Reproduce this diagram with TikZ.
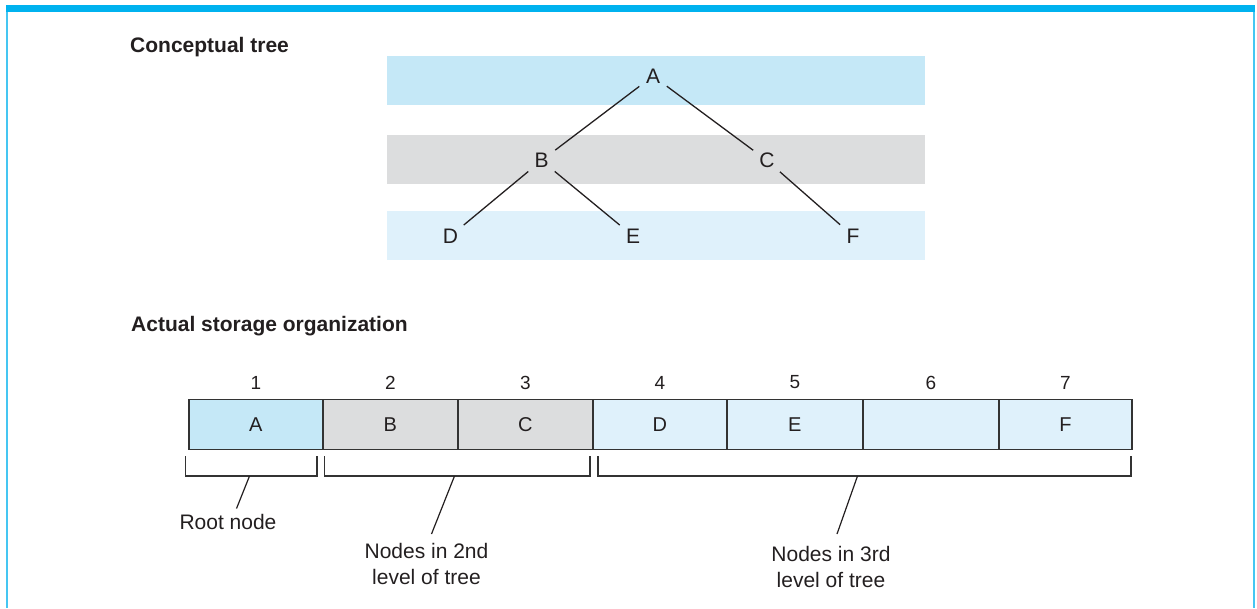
\documentclass[tikz,border=0pt]{standalone}
\usepackage{fontspec}
\setmainfont{Liberation Sans}
\usetikzlibrary{calc}
\definecolor{frame}{HTML}{00B2EF}
\definecolor{frameside}{HTML}{45C6F2}
\definecolor{lvlone}{HTML}{C5E8F7}
\definecolor{lvltwo}{HTML}{DCDDDE}
\definecolor{lvlthree}{HTML}{DFF1FB}
\definecolor{ink}{HTML}{231F20}
\definecolor{boxline}{HTML}{333333}
\begin{document}
\begin{tikzpicture}[x=1pt,y=-1pt,
  treenode/.style={circle, minimum size=34pt, inner sep=0pt, font=\fontsize{21}{21}\selectfont, text=ink},
  edge/.style={draw=ink, line width=1.3pt},
  cell/.style={draw=boxline, line width=1.8pt, minimum height=50pt, inner sep=0pt, font=\fontsize{20}{20}\selectfont, text=ink, anchor=north west},
  idx/.style={font=\fontsize{19}{19}\selectfont, text=ink, inner sep=0pt},
  title/.style={font=\fontsize{21}{21}\selectfont\bfseries, text=ink, anchor=base west, inner sep=0pt},
  lbl/.style={font=\fontsize{21}{26}\selectfont, text=ink, align=center, inner sep=0pt},
  bracket/.style={draw=boxline, line width=1.3pt},
  leader/.style={draw=ink, line width=1.2pt}]
\useasboundingbox (0,0) rectangle (1257,608);
% frame
\fill[frame] (6,5) rectangle (1255,11.5);
\fill[frameside] (6,11.5) rectangle (8,608);
\fill[frameside] (1253.3,11.5) rectangle (1255,608);
% titles
\node[title] (t1) at (130,52) {Conceptual tree};
\node[title] (t2) at (131,331.5) {Actual storage organization};
% level bands
\fill[lvlone] (387,56) rectangle (925,105);
\fill[lvltwo] (387,135) rectangle (925,184);
\fill[lvlthree] (387,211) rectangle (925,260);
% tree
\node[treenode] (A) at (653,76) {A};
\node[treenode] (B) at (541.5,160.5) {B};
\node[treenode] (C) at (767,160.5) {C};
\node[treenode] (D) at (450.5,236) {D};
\node[treenode] (E) at (633,236) {E};
\node[treenode] (F) at (853,236) {F};
\draw[edge] (A) -- (B);
\draw[edge] (A) -- (C);
\draw[edge] (B) -- (D);
\draw[edge] (B) -- (E);
\draw[edge] (C) -- (F);
% storage cells
\node[cell, fill=lvlone, minimum width=134pt] (c1) at (188,398.5) {A};
\node[cell, fill=lvltwo, minimum width=135pt] (c2) at (322,398.5) {B};
\node[cell, fill=lvltwo, minimum width=135pt] (c3) at (457,398.5) {C};
\node[cell, fill=lvlthree, minimum width=134pt] (c4) at (592,398.5) {D};
\node[cell, fill=lvlthree, minimum width=136pt] (c5) at (726,398.5) {E};
\node[cell, fill=lvlthree, minimum width=136pt] (c6) at (862,398.5) {};
\node[cell, fill=lvlthree, minimum width=133pt] (c7) at (998,398.5) {F};
\foreach \i in {1,...,7}{
  \node[idx] (n\i) at ($(c\i.north)+(0,-16)$) {\i};
}
% brackets
\draw[bracket] (185.5,456) -- (185.5,476) -- (317,476) -- (317,456);
\draw[bracket] (324.5,456) -- (324.5,476) -- (590,476) -- (590,456);
\draw[bracket] (598,456) -- (598,476) -- (1131,476) -- (1131,456);
\coordinate (b1) at (249.5,476);
\coordinate (b2) at (454.5,476);
\coordinate (b3) at (857.5,476);
\coordinate (e1) at (236.5,508.5);
\coordinate (e2) at (431.5,534);
\coordinate (e3) at (837,534);
\draw[leader] (b1) -- (e1);
\draw[leader] (b2) -- (e2);
\draw[leader] (b3) -- (e3);
% labels
\node[lbl, anchor=base] (root) at (228,529) {Root node};
\node[lbl] (lv2) at (426.5,563.5) {Nodes in 2nd\\level of tree};
\node[lbl] (lv3) at (831,567) {Nodes in 3rd\\level of tree};
\end{tikzpicture}
\end{document}
